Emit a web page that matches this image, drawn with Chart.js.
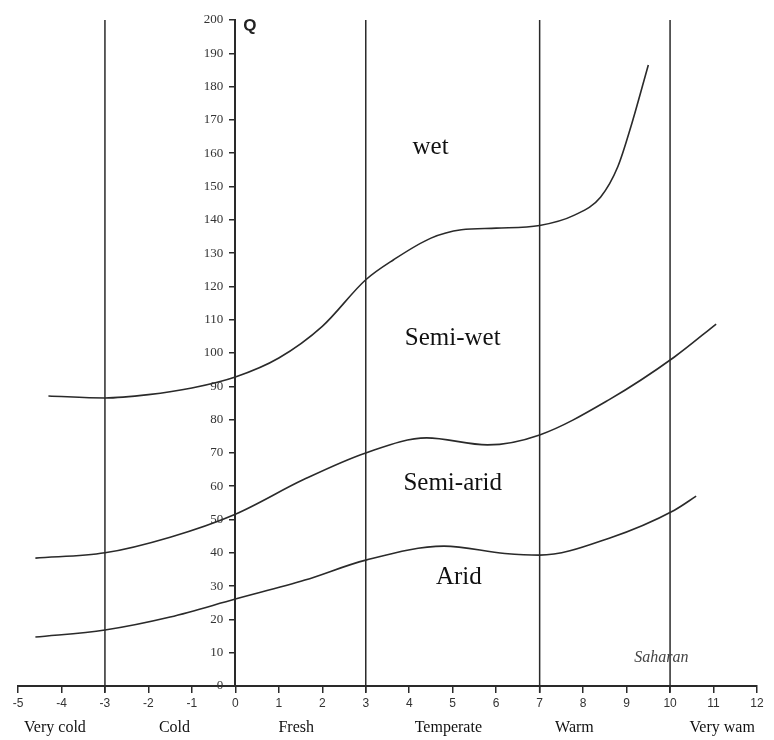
<!DOCTYPE html>
<html>
<head>
<meta charset="utf-8">
<script src="https://cdn.jsdelivr.net/npm/chart.js@4"></script>
<style>
  body { margin: 0; background: #fff; }
</style>
</head>
<body>
<canvas id="myChart" width="774" height="740"></canvas>
<script>
// climate boundary curves (temperature index vs Q)
const wetX = [-4.3, -3, -2, -1, 0, 1, 2, 3, 3.64, 4.5, 5.2, 6, 7, 7.8, 8.4, 8.8, 9.1, 9.5];
const wetQ = [87.1, 86.5, 87.5, 89.5, 92.8, 98.5, 108, 122, 128, 134.5, 137, 137.5, 138.3, 141.4, 146.8, 156, 168, 186.5];

const semiX = [-4.6, -3, -1.5, 0, 1.57, 3, 4.4, 5.8, 7, 8.6, 10.1, 11.06];
const semiQ = [38.4, 40, 44.7, 51.6, 62, 70, 74.5, 72.4, 75.4, 86, 98.8, 108.7];

const aridX = [-4.6, -3, -1.5, 0, 1.6, 3, 4.8, 6.2, 7, 8.6, 10.1, 10.6];
const aridQ = [14.7, 16.8, 20.7, 26.1, 31.8, 37.8, 42, 39.8, 39.3, 44.4, 52.8, 57];

// vertical zone separators
const borderX = [-3, 3, 7, 10];

// temperature zone names under the axis
const zoneNames = ["Very cold", "Cold", "Fresh", "Temperate", "Warm", "Very wam"];
const zoneX = [-4.15, -1.4, 1.4, 4.9, 7.8, 11.2];

// region names inside the plot
const regionNames = ["wet", "Semi-wet", "Semi-arid", "Arid"];
const regionX = [4.49, 5.0, 5.0, 5.14];
const regionQ = [161.6, 104.5, 60.9, 32.6];

const ink = "#2a2a2a";

function toPoints(xs, ys) {
  return xs.map((x, i) => ({ x: x, y: ys[i] }));
}

const curveStyle = {
  showLine: true,
  borderColor: ink,
  borderWidth: 1.6,
  pointRadius: 0,
  cubicInterpolationMode: "monotone",
  fill: false,
};

const datasets = [
  { ...curveStyle, data: toPoints(wetX, wetQ) },
  { ...curveStyle, data: toPoints(semiX, semiQ) },
  { ...curveStyle, data: toPoints(aridX, aridQ) },
];

borderX.forEach((bx) => {
  datasets.push({
    showLine: true,
    borderColor: ink,
    borderWidth: 1.5,
    pointRadius: 0,
    clip: false,
    data: [{ x: bx, y: -2 }, { x: bx, y: 200 }],
  });
});

const labelsPlugin = {
  id: "labels",
  afterDraw(chart) {
    const ctx = chart.ctx;
    const xs = chart.scales.x;
    const ys = chart.scales.y;
    ctx.save();

    // y tick labels, kept off the centred axis line
    ctx.fillStyle = "#333";
    ctx.font = "13px 'Liberation Serif'";
    ctx.textAlign = "right";
    ctx.textBaseline = "middle";
    const axisX = xs.getPixelForValue(0);
    ys.ticks.forEach((t) => {
      ctx.fillText(String(t.value), axisX - 12, ys.getPixelForValue(t.value));
    });

    ctx.fillStyle = "#111";
    ctx.textAlign = "center";
    ctx.font = "25px 'Liberation Serif'";
    regionNames.forEach((name, i) => {
      ctx.fillText(name, xs.getPixelForValue(regionX[i]), ys.getPixelForValue(regionQ[i]));
    });

    ctx.font = "16px 'Liberation Serif'";
    zoneNames.forEach((name, i) => {
      ctx.fillText(name, xs.getPixelForValue(zoneX[i]), 728);
    });

    ctx.font = "italic 16px 'Liberation Serif'";
    ctx.fillStyle = "#444";
    ctx.fillText("Saharan", xs.getPixelForValue(9.8), ys.getPixelForValue(8.4));

    ctx.font = "bold 17px 'Liberation Sans'";
    ctx.fillStyle = "#222";
    ctx.textAlign = "left";
    ctx.fillText("Q", axisX + 8, ys.getPixelForValue(198));
    ctx.restore();
  },
};

const canvasArea = document.getElementById("myChart").getContext("2d");
const config = {
  type: "scatter",
  data: { datasets: datasets },
  options: {
    responsive: false,
    animation: false,
    layout: { padding: { left: 18, right: 17, top: 20, bottom: 54 } },
    plugins: { legend: { display: false }, tooltip: { enabled: false } },
    scales: {
      x: {
        type: "linear",
        position: { y: 0 },
        min: -5,
        max: 12,
        ticks: { stepSize: 1, color: "#333", font: { family: "'Liberation Sans'", size: 12 }, padding: 4 },
        grid: { drawOnChartArea: false, tickLength: 6, color: ink, lineWidth: 1.5 },
        border: { color: ink, width: 2 },
      },
      y: {
        type: "linear",
        position: { x: 0 },
        min: 0,
        max: 200,
        ticks: { stepSize: 10, display: false },
        grid: { drawOnChartArea: false, tickLength: 5, color: ink, lineWidth: 1.5 },
        border: { color: ink, width: 2 },
      },
    },
  },
  plugins: [labelsPlugin],
};
const myChartOne = new Chart(canvasArea, config);
</script>
</body>
</html>
